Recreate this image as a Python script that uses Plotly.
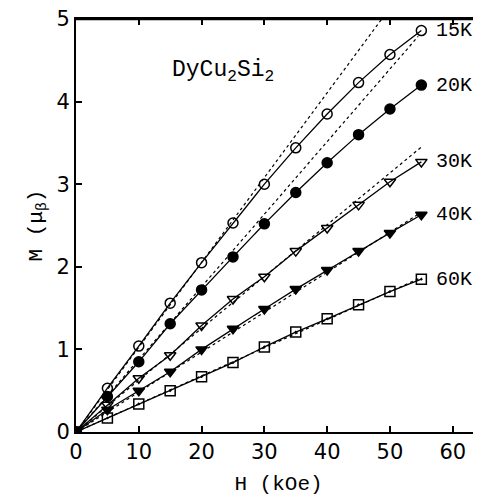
import plotly.graph_objects as go

H = [0, 5, 10, 15, 20, 25, 30, 35, 40, 45, 50, 55]
M_15K = [0, 0.53, 1.04, 1.56, 2.05, 2.53, 3.00, 3.44, 3.85, 4.23, 4.57, 4.86]
M_20K = [0, 0.43, 0.85, 1.31, 1.72, 2.12, 2.52, 2.90, 3.26, 3.60, 3.91, 4.20]
M_30K = [0, 0.33, 0.65, 0.93, 1.29, 1.61, 1.88, 2.19, 2.47, 2.75, 3.03, 3.27]
M_40K = [0, 0.27, 0.50, 0.73, 1.00, 1.25, 1.49, 1.73, 1.96, 2.19, 2.41, 2.63]
M_60K = [0, 0.17, 0.34, 0.50, 0.67, 0.84, 1.03, 1.21, 1.37, 1.54, 1.70, 1.85]

# initial-slope (dotted) lines: end points
fit_H = [[0, 48.7], [0, 54.5], [0, 55.0], [0, 55.0], [0, 55.0]]
fit_M = [[0, 5.0], [0, 4.79], [0, 3.45], [0, 2.66], [0, 1.87]]

labels = ["15K", "20K", "30K", "40K", "60K"]
label_M = [4.86, 4.20, 3.27, 2.63, 1.85]
series = [M_15K, M_20K, M_30K, M_40K, M_60K]
symbols = ["circle-open", "circle", "triangle-down-open", "triangle-down", "square-open-dot"]

fig = go.Figure()
for fh, fm in zip(fit_H, fit_M):
    fig.add_trace(go.Scatter(x=fh, y=fm, mode="lines",
                             line=dict(color="black", width=1.2, dash="dot"),
                             showlegend=False, hoverinfo="skip"))
for m, s in zip(series, symbols):
    fig.add_trace(go.Scatter(x=H, y=m, mode="lines+markers",
                             line=dict(color="black", width=1.3),
                             marker=dict(symbol=s, size=10, color="black",
                                         line=dict(color="black", width=1.5)),
                             showlegend=False))
# common origin point (drawn as a filled square in the original)
fig.add_trace(go.Scatter(x=[H[0]], y=[M_60K[0]], mode="markers",
                         marker=dict(symbol="square", size=9, color="black"),
                         showlegend=False))

for lab, ym in zip(labels, label_M):
    fig.add_annotation(x=57.0, y=ym, text=lab, showarrow=False, xanchor="left",
                       yanchor="middle",
                       font=dict(family="Liberation Mono", size=20, color="black"))

fig.add_annotation(x=15.0, y=4.36, text="DyCu<sub>2</sub>Si<sub>2</sub>", showarrow=False,
                   xanchor="left", yanchor="middle",
                   font=dict(family="Liberation Mono", size=23, color="black"))

# top frame line
fig.add_shape(type="line", xref="paper", yref="paper", x0=0, x1=1, y0=1, y1=1,
              line=dict(color="black", width=2.5))

axis_common = dict(showgrid=False, zeroline=False, showline=True, linecolor="black",
                   linewidth=2, mirror="ticks", ticks="inside", ticklen=6,
                   tickwidth=1.5, tickcolor="black", ticklabeloverflow="allow",
                   automargin=False,
                   tickfont=dict(family="DejaVu Sans", size=21, color="black"))

fig.update_layout(
    width=481, height=502,
    margin=dict(l=68, r=8, t=11, b=78, autoexpand=False),
    paper_bgcolor="white", plot_bgcolor="white",
    xaxis=dict(range=[0, 64.5], tickvals=[0, 10, 20, 30, 40, 50, 60],
               title=dict(text="H (kOe)", standoff=12,
                          font=dict(family="Liberation Mono", size=21, color="black")),
               **axis_common),
    yaxis=dict(range=[0, 5], tickvals=[0, 1, 2, 3, 4, 5],
               title=dict(text="M (μ<sub>β</sub>)", standoff=8,
                          font=dict(family="Liberation Mono", size=21, color="black")),
               **axis_common),
)

fig.write_html("out.html")
